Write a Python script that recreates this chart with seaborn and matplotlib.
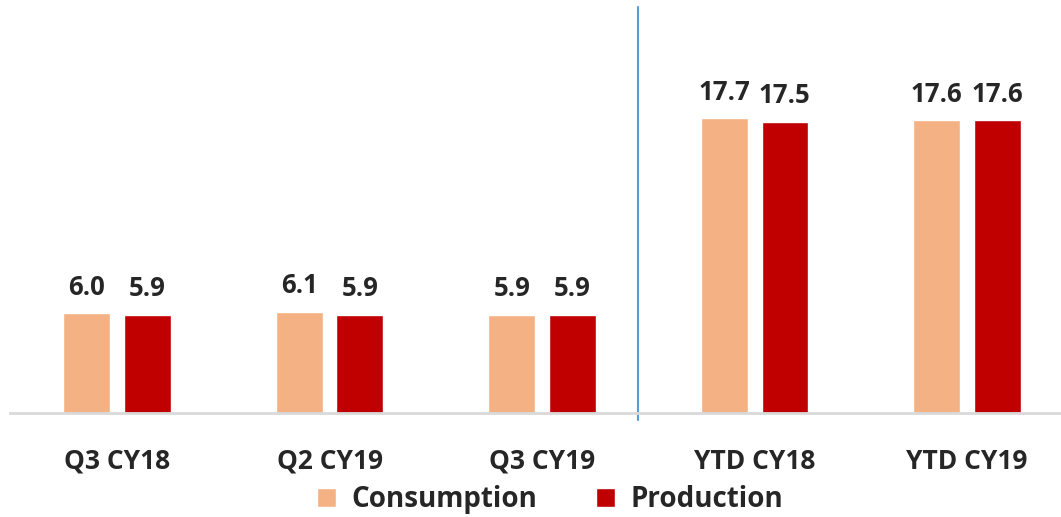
import pandas as pd
import matplotlib.pyplot as plt
import seaborn as sns

# Data
periods = ['Q3 CY18', 'Q2 CY19', 'Q3 CY19', 'YTD CY18', 'YTD CY19']
consumption = [6.0, 6.1, 5.9, 17.7, 17.6]
production = [5.9, 5.9, 5.9, 17.5, 17.6]
series = ['Consumption', 'Production']
colors = ['#F4B183', '#C00000']

df = pd.DataFrame({
    'Period': periods * 2,
    'Value': consumption + production,
    'Series': ['Consumption'] * len(periods) + ['Production'] * len(periods),
})

sns.set_style('white')
plt.rcParams['font.family'] = ['Open Sans', 'DejaVu Sans']

fig = plt.figure(figsize=(10.61, 5.17), dpi=100)
ax = fig.add_axes([10 / 1061, 104 / 517, 1051 / 1061, 406 / 517])

sns.barplot(data=df, x='Period', y='Value', hue='Series', order=periods,
            hue_order=series, palette=colors, width=0.57, gap=0.23,
            saturation=1, ax=ax, legend=True)

for cont in ax.containers:
    ax.bar_label(cont, fmt='%.1f', padding=9, fontsize=18.5, fontweight='bold')

ax.set_xlim(-0.5035, 4.442)
ax.set_ylim(0, 24.4)

# separator between quarterly and YTD figures
ax.axvline(2.45, ymin=-0.017, ymax=1.0, color='#5B9BD5', lw=1.5, clip_on=False)

sns.despine(ax=ax, left=True, top=True, right=True)
ax.spines['bottom'].set_color('#D9D9D9')
ax.spines['bottom'].set_linewidth(2)
ax.set_yticks([])
ax.set_xlabel('')
ax.set_ylabel('')
ax.tick_params(axis='x', length=0, pad=25, labelsize=19)
for lbl in ax.get_xticklabels():
    lbl.set_fontweight('bold')

ax.legend(loc='center', bbox_to_anchor=(0.514, -0.214), ncol=2, frameon=False,
          handlelength=0.7, handleheight=0.7, handletextpad=0.55,
          columnspacing=2.1, prop={'size': 20, 'weight': 'bold'})

plt.savefig('out.png', dpi=100)
